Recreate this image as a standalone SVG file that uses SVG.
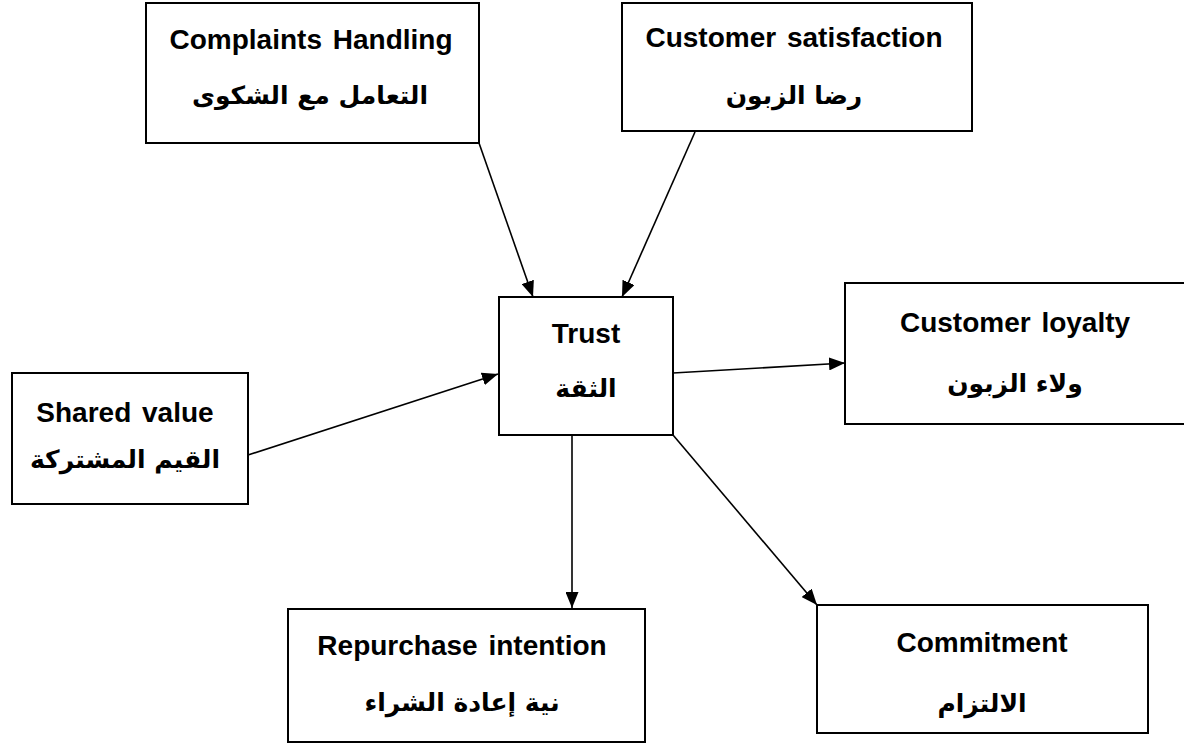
<svg xmlns="http://www.w3.org/2000/svg" width="1184" height="745" viewBox="0 0 1184 745">
<style>
.box{fill:#fff;stroke:#000;stroke-width:2}
.en{font-family:"Liberation Sans",Arial,sans-serif;font-weight:bold;font-size:28px;text-anchor:middle;fill:#000;word-spacing:3px}
.ar{font-family:"DejaVu Sans","Liberation Sans",sans-serif;font-weight:bold;font-size:25px;text-anchor:middle;fill:#000}
.conn{stroke:#000;stroke-width:1.6;fill:none;marker-end:url(#arr)}
</style>
<defs>
<marker id="arr" markerUnits="userSpaceOnUse" markerWidth="17" markerHeight="13" refX="16" refY="6.5" orient="auto">
<path d="M0,0 L16,6.5 L0,13 z" fill="#000"/>
</marker>
</defs>
<rect width="1184" height="745" fill="#fff"/>
<g id="connectors">
<line class="conn" x1="479" y1="143" x2="533" y2="297"/>
<line class="conn" x1="695" y1="132" x2="622" y2="297"/>
<line class="conn" x1="248" y1="455" x2="498" y2="374"/>
<line class="conn" x1="673" y1="373" x2="845" y2="363"/>
<line class="conn" x1="572" y1="435" x2="572" y2="608"/>
<line class="conn" x1="673" y1="435" x2="817" y2="605"/>
</g>
<g id="complaints">
<rect class="box" x="146" y="3" width="333" height="140"/>
<text class="en" x="311" y="49">Complaints Handling</text>
<text class="ar" x="310" y="104">التعامل مع الشكوى</text>
</g>
<g id="satisfaction">
<rect class="box" x="622" y="3" width="350" height="128"/>
<text class="en" x="794" y="47">Customer satisfaction</text>
<text class="ar" x="794" y="104">رضا الزبون</text>
</g>
<g id="trust">
<rect class="box" x="499" y="297" width="174" height="138"/>
<text class="en" x="586" y="343">Trust</text>
<text class="ar" x="586" y="397">الثقة</text>
</g>
<g id="shared">
<rect class="box" x="12" y="373" width="236" height="131"/>
<text class="en" x="125" y="422">Shared value</text>
<text class="ar" x="125" y="468">القيم المشتركة</text>
</g>
<g id="loyalty">
<rect class="box" x="845" y="283" width="345" height="141"/>
<text class="en" x="1015" y="332">Customer loyalty</text>
<text class="ar" x="1015" y="392">ولاء الزبون</text>
</g>
<g id="repurchase">
<rect class="box" x="288" y="609" width="357" height="133"/>
<text class="en" x="462" y="655">Repurchase intention</text>
<text class="ar" x="462" y="711">نية إعادة الشراء</text>
</g>
<g id="commitment">
<rect class="box" x="817" y="605" width="331" height="128"/>
<text class="en" x="982" y="652">Commitment</text>
<text class="ar" x="982" y="712">الالتزام</text>
</g>
</svg>
